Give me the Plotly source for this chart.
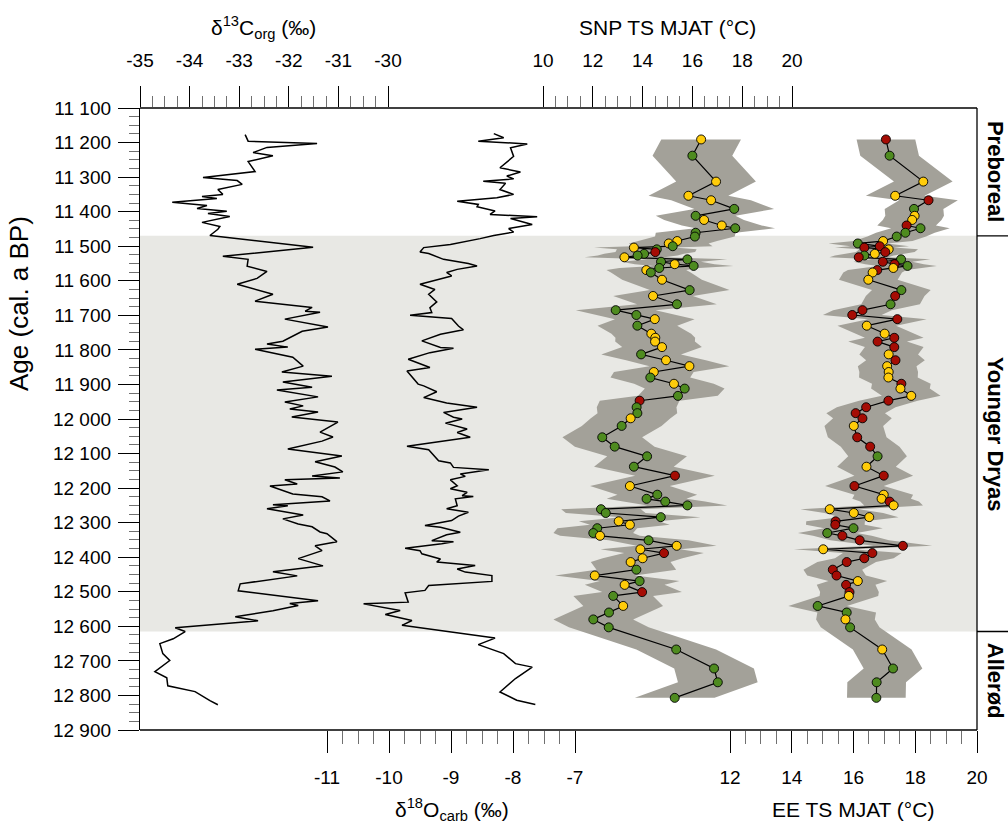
import plotly.graph_objects as go

# ---------------- data ----------------
d13c_age = [11177, 11196, 11203, 11214, 11229, 11238, 11255, 11284, 11301, 11310,
            11321, 11336, 11350, 11356, 11362, 11373, 11382, 11391, 11399, 11405,
            11414, 11431, 11443, 11451, 11469, 11503, 11529, 11538, 11558, 11573,
            11593, 11610, 11639, 11659, 11677, 11688, 11691, 11711, 11734, 11746,
            11775, 11783, 11792, 11798, 11821, 11847, 11864, 11876, 11893, 11908,
            11916, 11936, 11951, 11962, 11971, 11980, 11994, 12009, 12038, 12052,
            12064, 12087, 12107, 12124, 12139, 12153, 12165, 12171, 12176, 12188,
            12194, 12217, 12225, 12237, 12248, 12251, 12260, 12278, 12289, 12304,
            12312, 12327, 12332, 12355, 12367, 12381, 12404, 12425, 12442, 12454,
            12477, 12497, 12526, 12534, 12540, 12555, 12572, 12584, 12604, 12615,
            12636, 12650, 12679, 12699, 12731, 12749, 12772, 12789, 12815, 12827]
d13c_val = [-32.88, -32.82, -31.43, -32.44, -32.72, -32.32, -32.82, -32.68, -33.73, -33.04,
            -32.94, -33.43, -33.33, -33.75, -33.45, -34.35, -33.65, -33.85, -33.25, -33.63,
            -33.19, -33.75, -33.39, -33.43, -33.59, -31.51, -33.33, -32.82, -32.84, -32.44,
            -32.64, -33.04, -32.32, -32.68, -31.53, -31.67, -31.37, -32.08, -31.21, -31.73,
            -32.12, -32.44, -32.02, -32.68, -31.92, -31.71, -32.14, -31.13, -32.12, -31.53,
            -32.24, -31.41, -32.08, -31.71, -31.98, -31.41, -31.94, -31.01, -31.37, -31.11,
            -31.33, -32.02, -30.93, -31.47, -31.07, -30.91, -31.53, -30.97, -32.08, -31.83,
            -32.38, -31.92, -31.33, -31.17, -32.32, -32.02, -32.44, -31.71, -32.12, -31.81,
            -31.53, -31.37, -31.23, -31.03, -31.47, -31.33, -31.81, -31.31, -32.32, -31.83,
            -32.98, -33.02, -31.41, -31.98, -31.81, -32.32, -33.08, -32.62, -34.29, -34.09,
            -34.33, -34.60, -34.54, -34.40, -34.70, -34.46, -34.44, -33.89, -33.59, -33.43]

d18o_age = [11174, 11186, 11196, 11204, 11215, 11240, 11273, 11285, 11297, 11305,
            11312, 11318, 11336, 11350, 11360, 11370, 11379, 11386, 11394, 11398,
            11408, 11415, 11420, 11437, 11449, 11459, 11469, 11478, 11495, 11504,
            11517, 11521, 11538, 11543, 11550, 11557, 11567, 11576, 11586, 11610,
            11625, 11639, 11661, 11678, 11692, 11700, 11704, 11709, 11731, 11742,
            11755, 11774, 11793, 11795, 11808, 11827, 11851, 11861, 11899, 11904,
            11921, 11938, 11954, 11966, 11981, 11995,
            12000, 12012, 12029, 12039, 12053, 12079, 12089, 12121, 12127, 12140,
            12147, 12159, 12166, 12176, 12193, 12202, 12212, 12222, 12224, 12231,
            12251, 12260, 12270, 12281, 12294, 12308, 12313, 12328, 12335, 12352,
            12355, 12361, 12374, 12381, 12390, 12405, 12414, 12424, 12434, 12443,
            12453, 12470, 12482, 12496, 12503, 12530, 12535, 12554, 12566, 12583,
            12597, 12626, 12634, 12653, 12679, 12708, 12718, 12751, 12790, 12814,
            12826]
d18o_val = [-8.31, -8.15, -8.56, -7.77, -8.04, -7.99, -8.21, -7.88, -8.10, -7.99,
            -8.48, -8.12, -8.21, -7.99, -8.26, -8.90, -8.56, -8.58, -8.39, -8.29,
            -8.37, -7.61, -8.04, -7.69, -8.07, -7.99, -8.31, -8.53, -9.01, -9.44,
            -9.50, -9.36, -9.12, -8.93, -8.72, -8.58, -8.90, -9.07, -8.99, -9.50,
            -9.26, -9.36, -9.23, -9.34, -9.31, -9.66, -9.28, -8.99, -8.88, -8.80,
            -9.17, -9.47, -9.17, -8.96, -9.34, -9.69, -9.34, -9.71, -9.53, -9.44,
            -9.23, -9.44, -9.07, -8.58, -9.12, -8.96,
            -8.82, -9.09, -8.74, -8.90, -8.69, -9.71, -9.36, -9.20, -9.01, -8.96,
            -8.39, -8.85, -8.77, -9.01, -8.90, -9.01, -8.74, -8.82, -8.64, -8.93,
            -8.90, -9.07, -8.72, -8.88, -8.99, -9.42, -9.17, -8.85, -9.07, -9.31,
            -8.96, -9.15, -9.74, -9.50, -9.47, -9.17, -9.23, -8.61, -8.90, -8.77,
            -8.34, -8.34, -9.36, -9.42, -9.74, -9.69, -10.41, -9.82, -10.06, -9.63,
            -9.79, -8.58, -8.29, -8.56, -8.15, -7.96, -7.69, -7.96, -8.21, -7.94,
            -7.64]

ts_age = [11191, 11238, 11313, 11354, 11367, 11392, 11412, 11424, 11440, 11448,
          11461, 11472, 11485, 11492, 11500, 11504, 11509, 11517, 11522, 11527,
          11532, 11538, 11545, 11552, 11557, 11563, 11569, 11576, 11597, 11627,
          11644, 11668, 11685, 11699, 11711, 11730, 11753, 11765, 11776, 11792,
          11813, 11830, 11847, 11864, 11880, 11898, 11912, 11933, 11947, 11966,
          11983, 11998, 12020, 12053, 12080, 12108, 12138, 12164, 12194, 12219,
          12231, 12239, 12250, 12261, 12272, 12284, 12296, 12306, 12316, 12330,
          12338, 12351, 12367, 12377, 12388, 12403, 12414, 12436, 12453, 12469,
          12480, 12501, 12512, 12541, 12560, 12580, 12603, 12667, 12722, 12762,
          12807]

snp_val = [16.35, 16.00, 16.95, 15.84, 16.75, 17.68, 16.13, 16.47, 17.18, 17.72,
           16.13, 16.10, 15.39, 15.05, 15.21, 13.65, 14.57, 14.51, 14.06, 13.80,
           13.27, 15.80, 14.74, 15.29, 16.05, 14.67, 14.15, 14.33, 14.78, 15.89,
           14.42, 15.38, 12.92, 13.75, 14.49, 13.79, 14.35, 14.51, 14.50, 14.78,
           13.94, 14.94, 15.88, 14.45, 14.31, 15.26, 15.69, 15.42, 13.88, 13.76,
           13.79, 13.52, 13.16, 12.38, 12.88, 14.18, 13.65, 15.30, 13.49, 14.59,
           14.16, 14.91, 15.80, 12.33, 12.52, 14.73, 13.04, 13.49, 12.18, 12.02,
           12.29, 14.24, 15.37, 13.91, 14.86, 14.00, 13.52, 13.75, 12.08, 13.88,
           13.28, 13.98, 12.82, 13.22, 12.65, 12.02, 12.64, 15.35, 16.87, 17.02,
           15.29]
snp_class = ["Y", "G", "Y", "Y", "Y", "G", "G", "Y", "Y", "G",
             "G", "G", "Y", "Y", "G", "Y", "G", "R", "G", "G",
             "Y", "G", "G", "Y", "G", "G", "Y", "G", "Y", "G",
             "Y", "G", "G", "G", "Y", "G", "Y", "Y", "Y", "Y",
             "G", "Y", "Y", "Y", "G", "Y", "G", "G", "R", "G",
             "G", "Y", "G", "G", "G", "G", "G", "R", "Y", "G",
             "G", "G", "G", "G", "G", "G", "Y", "Y", "G", "G",
             "Y", "G", "Y", "Y", "R", "Y", "Y", "G", "Y", "G",
             "Y", "R", "G", "Y", "G", "G", "G", "G", "G", "G",
             "G"]
snp_err = 1.6   # half-width of the grey uncertainty envelope (°C)

ee_val = [17.05, 17.17, 18.26, 17.35, 18.43, 17.96, 17.98, 17.90, 17.72, 18.17,
          17.68, 17.40, 16.96, 16.14, 16.85, 16.35, 17.14, 17.03, 16.69, 16.35,
          16.17, 17.54, 16.95, 17.33, 17.75, 17.29, 16.77, 16.62, 16.48, 17.55,
          17.35, 17.20, 16.29, 15.96, 17.42, 16.43, 17.01, 17.32, 16.78, 17.32,
          17.14, 17.36, 17.09, 17.14, 17.13, 17.55, 17.52, 17.87, 17.13, 16.41,
          16.07, 16.29, 16.01, 16.12, 16.54, 16.78, 16.42, 16.98, 16.03, 16.98,
          16.91, 17.17, 17.30, 15.23, 16.01, 16.51, 15.42, 15.41, 16.00, 15.15,
          15.64, 16.20, 17.60, 15.02, 16.61, 16.35, 15.78, 15.33, 15.45, 16.14,
          15.76, 15.87, 15.85, 14.84, 15.78, 15.74, 15.89, 16.93, 17.28, 16.75,
          16.74]
ee_class = ["R", "G", "Y", "Y", "R", "G", "Y", "Y", "R", "G",
            "G", "G", "Y", "G", "R", "R", "Y", "R", "Y", "G",
            "R", "G", "R", "R", "G", "Y", "R", "Y", "Y", "G",
            "R", "G", "R", "R", "R", "Y", "Y", "R", "R", "R",
            "Y", "R", "Y", "Y", "Y", "R", "Y", "Y", "R", "R",
            "R", "R", "Y", "R", "R", "G", "Y", "R", "R", "Y",
            "Y", "R", "Y", "Y", "Y", "Y", "R", "R", "G", "G",
            "R", "R", "R", "Y", "R", "R", "R", "R", "R", "Y",
            "R", "R", "Y", "G", "G", "Y", "G", "Y", "G", "G",
            "G"]
ee_err = 0.95

zones = [("Preboreal", 11100, 11470), ("Younger Dryas", 11470, 12615), ("Allerød", 12615, 12900)]

age_ticks = list(range(11100, 12901, 100))
age_ticktext = [f"{a // 1000} {a % 1000:03d}" for a in age_ticks]
d13c_ticks = [-35, -34, -33, -32, -31, -30]
snp_ticks = [10, 12, 14, 16, 18, 20]
d18o_ticks = [-11, -10, -9, -8, -7]
ee_ticks = [12, 14, 16, 18, 20]

# ---------------- style ----------------
COL = {"Y": "#ffcc0a", "G": "#4e8b1f", "R": "#a50c04"}
SHADE = "#e8e8e4"
BAND = "#a3a199"
FONT = "Liberation Sans, Arial, sans-serif"
W, H = 1008, 824
L, R, T, B = 140, 31, 108, 94
PW, PH = W - L - R, H - T - B


def fx(px):
    return (px - L) / PW


def fy(py):
    return (H - B - py) / PH


tickfont = dict(family=FONT, size=19, color="black")

fig = go.Figure()

fig.add_trace(go.Scatter(x=d13c_val, y=d13c_age, mode="lines",
                         line=dict(color="black", width=1.5), xaxis="x", yaxis="y"))
fig.add_trace(go.Scatter(x=d18o_val, y=d18o_age, mode="lines",
                         line=dict(color="black", width=1.5), xaxis="x3", yaxis="y"))


def add_ts(vals, classes, err, xa):
    upper = [v + err for v in vals]
    lower = [v - err for v in vals]
    fig.add_trace(go.Scatter(x=upper + lower[::-1], y=ts_age + ts_age[::-1],
                             fill="toself", fillcolor=BAND, mode="lines",
                             line=dict(width=0, color=BAND), xaxis=xa, yaxis="y"))
    fig.add_trace(go.Scatter(x=vals, y=ts_age, mode="lines+markers",
                             line=dict(color="black", width=1.2),
                             marker=dict(size=9, color=[COL[c] for c in classes],
                                         line=dict(color="black", width=0.9)),
                             xaxis=xa, yaxis="y"))


add_ts(snp_val, snp_class, snp_err, "x2")
add_ts(ee_val, ee_class, ee_err, "x4")


def xaxis(domain, rng, ticks, minor_step, side, ticklen, minorlen, standoff):
    lo, hi = rng
    n = int(round((hi - lo) / minor_step))
    minors = [lo + minor_step * i for i in range(n + 1)]
    minors = [m for m in minors if all(abs(m - t) > 1e-9 for t in ticks)]
    return dict(domain=domain, range=list(rng), side=side, anchor="y",
                tickmode="array", tickvals=ticks, ticktext=[str(t) for t in ticks],
                ticks="outside", ticklen=ticklen, tickwidth=1.3, tickcolor="black",
                showline=False, showgrid=False, zeroline=False, automargin=False,
                tickfont=tickfont, ticklabelstandoff=standoff,
                minor=dict(tickmode="array", tickvals=minors, ticks="outside",
                           ticklen=minorlen, tickwidth=1, tickcolor="#707070",
                           showgrid=False))


y_minor = [a for a in range(11100, 12901, 25) if a % 100 != 0]

fig.update_layout(
    width=W, height=H, template="none", showlegend=False,
    margin=dict(l=L, r=R, t=T, b=B, pad=0),
    paper_bgcolor="white", plot_bgcolor="rgba(0,0,0,0)",
    font=dict(family=FONT, color="black"),
    xaxis=xaxis([fx(140), fx(388)], (-35, -30), d13c_ticks, 0.25, "top", 21, 11, 11),
    xaxis2=xaxis([fx(543), fx(792)], (10, 20), snp_ticks, 0.5, "top", 21, 11, 11),
    xaxis3=xaxis([fx(327), fx(575)], (-11, -7), d18o_ticks, 0.25, "bottom", 22, 13, 8),
    xaxis4=xaxis([fx(730), fx(977)], (12, 20), ee_ticks, 0.5, "bottom", 22, 13, 8),
    yaxis=dict(domain=[0, 1], range=[12900, 11100], anchor="x",
               tickmode="array", tickvals=age_ticks, ticktext=age_ticktext,
               ticks="outside", ticklen=21, tickwidth=1.3, tickcolor="black",
               showline=True, linecolor="black", linewidth=1.3,
               showgrid=False, zeroline=False, automargin=False,
               tickfont=tickfont, ticklabelstandoff=3,
               minor=dict(tickmode="array", tickvals=y_minor, ticks="outside",
                          ticklen=10, tickwidth=1, tickcolor="#707070", showgrid=False)),
)

shapes = []
yd = zones[1]
shapes.append(dict(type="rect", xref="paper", yref="y", x0=0, x1=1, y0=yd[1], y1=yd[2],
                   fillcolor=SHADE, line=dict(width=0), layer="below"))
frame = dict(color="black", width=1.3)
shapes += [
    dict(type="line", xref="paper", yref="paper", x0=0, x1=1, y0=1, y1=1, line=frame),
    dict(type="line", xref="paper", yref="paper", x0=0, x1=1, y0=0, y1=0, line=frame),
    dict(type="line", xref="paper", yref="paper", x0=1, x1=1, y0=0, y1=1, line=frame),
]
for z in zones[1:]:
    shapes.append(dict(type="line", xref="paper", yref="y", x0=1, x1=fx(1010),
                       y0=z[1], y1=z[1], line=frame))
fig.update_layout(shapes=shapes)

ann = []
title_font = dict(family=FONT, size=21, color="black")
ann.append(dict(text="δ<sup>13</sup>C<sub>org</sub> (‰)", x=fx(263), y=fy(28)))
ann.append(dict(text="SNP TS MJAT (°C)", x=fx(667), y=fy(28)))
ann.append(dict(text="δ<sup>18</sup>O<sub>carb</sub> (‰)", x=fx(452), y=fy(809)))
ann.append(dict(text="EE TS MJAT (°C)", x=fx(853), y=fy(809)))
for a in ann:
    a.update(xref="paper", yref="paper", showarrow=False, font=title_font,
             xanchor="center", yanchor="middle")
ann.append(dict(text="Age (cal. a BP)", x=fx(19), y=fy(303), xref="paper", yref="paper",
                showarrow=False, textangle=-90, font=dict(family=FONT, size=26, color="black"),
                xanchor="center", yanchor="middle"))
for name, a0, a1 in zones:
    ann.append(dict(text=f"<b>{name}</b>", x=fx(995), y=(a0 + a1) / 2, xref="paper", yref="y",
                    showarrow=False, textangle=90,
                    font=dict(family=FONT, size=22, color="black"),
                    xanchor="center", yanchor="middle"))
fig.update_layout(annotations=ann)

fig.write_html("out.html", config={"displayModeBar": False},
               post_script="document.body.style.margin='0';document.body.style.overflow='hidden';")
